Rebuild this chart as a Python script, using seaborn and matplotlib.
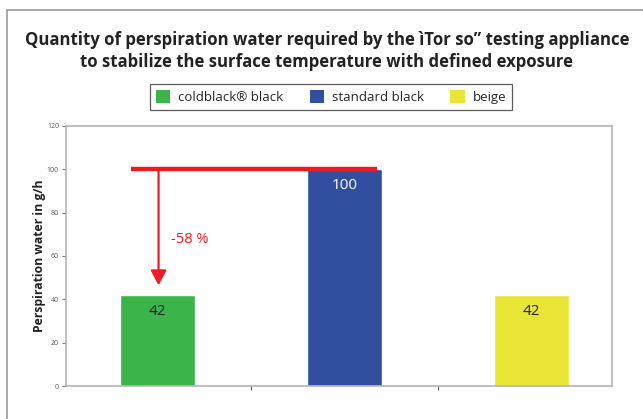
import matplotlib
matplotlib.use("Agg")
import matplotlib.pyplot as plt
import seaborn as sns
import pandas as pd
from matplotlib.patches import Rectangle, Patch

categories = ["coldblack® black", "standard black", "beige"]
values = [42, 100, 42]
colors = ["#3bb54a", "#30509f", "#e9e535"]
label_colors = ["#222222", "#ffffff", "#222222"]
y_ticks = [0, 20, 40, 60, 80, 100, 120]
title = "Quantity of perspiration water required by the ìTor so” testing appliance\nto stabilize the surface temperature with defined exposure"
ylabel = "Perspiration water in g/h"
reduction_text = "-58 %"

sns.set_theme(style="white")
plt.rcParams["font.family"] = ["Open Sans", "DejaVu Sans"]

df = pd.DataFrame({"cat": categories, "val": values})

fig = plt.figure(figsize=(6.43, 4.19), dpi=100)
ax = fig.add_axes([66/643, 1-386/419, (612-66)/643, (386-126)/419])

sns.barplot(data=df, x="cat", y="val", hue="cat", palette=colors, order=categories,
            hue_order=categories, width=0.40, ax=ax, legend=False, saturation=1)

ax.set_xlim(-0.49, 2.43)
ax.set_ylim(0, 120)
ax.set_yticks(y_ticks)
ax.set_yticklabels([str(t) for t in y_ticks], fontsize=5, color="#555555")
ax.set_xticks([])
ax.set_xticks([0.5, 1.5], minor=True)
ax.tick_params(axis="x", which="minor", length=3, width=0.8, color="#555555", bottom=True, direction="out")
ax.tick_params(axis="y", which="major", length=3, width=0.8, color="#777777", left=True, direction="out", pad=2)
ax.set_xlabel("")
ax.set_ylabel(ylabel, fontsize=8.8, fontweight="bold", color="#222222", labelpad=0.5)
for s in ax.spines.values():
    s.set_visible(True)
    s.set_color("#b5b5b5")
    s.set_linewidth(1.2)

# value labels
for i, (v, c) in enumerate(zip(values, label_colors)):
    ax.text(i, v - 7.5, str(v), ha="center", va="center", fontsize=11, color=c)

# red reference line and arrow
red = "#ed1c24"
ax.plot([-0.14, 1.175], [values[1], values[1]], color=red, lw=3.2, solid_capstyle="butt", zorder=5)
ax.annotate("", xy=(0.005, 46.5), xytext=(0.005, values[1]),
            arrowprops=dict(arrowstyle="-|>,head_length=0.75,head_width=0.4", color=red, lw=1.6,
                            shrinkA=0, shrinkB=0), zorder=5)
ax.text(0.07, 67.5, reduction_text, color=red, fontsize=10.5, ha="left", va="center")

# title
fig.text(327/643, 1-51/419, title, ha="center", va="center", fontsize=12.1,
         fontweight="bold", color="#222222", linespacing=1.25)

# legend
handles = [Patch(facecolor=c, edgecolor="none", label=l) for c, l in zip(colors, categories)]
leg = fig.legend(handles=handles, loc="center", bbox_to_anchor=(331/643, 1-97/419), ncol=3,
                 fontsize=9.5, frameon=True, fancybox=False, handlelength=1.1, handleheight=1.1,
                 columnspacing=2.0, handletextpad=0.6, borderpad=0.45)
leg.get_frame().set_edgecolor("#333333")
leg.get_frame().set_linewidth(0.9)

# outer frame
fig.add_artist(Rectangle((7/643, -0.2), 1.2, 1.2 - 10/419, transform=fig.transFigure,
                         fill=False, edgecolor="#9a9a9a", lw=1.2))

fig.savefig("out.png", dpi=100)
